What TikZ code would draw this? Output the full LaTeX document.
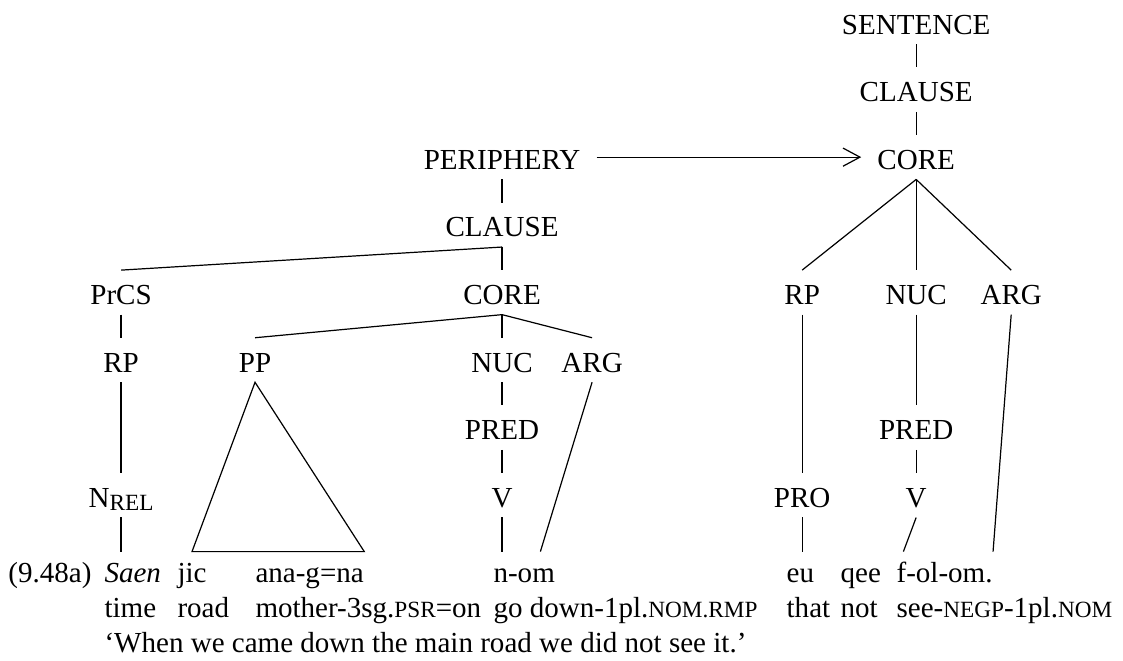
\documentclass[tikz,border=0pt]{standalone}
\usepackage{fontspec}
\setmainfont{Liberation Serif}
\usetikzlibrary{arrows.meta,calc}

% reduced capitals for glossing abbreviations
\newcommand{\gsc}[1]{{\fontsize{9.6pt}{10pt}\selectfont #1}}

\begin{document}
\begin{tikzpicture}[
    font=\fontsize{12pt}{14pt}\selectfont,
    lab/.style={
        anchor=base,
        inner xsep=6.5pt,
        inner ysep=0pt,
        text height=14pt,
        text depth=4pt
    },
    word/.style={
        anchor=base west,
        inner sep=0pt,
        text height=12.4pt,
        text depth=3pt
    },
    stem/.style={line width=0.5pt},
    arr/.style={-{Straight Barb[length=7pt,width=7.5pt]}, line width=0.5pt}
]

\useasboundingbox (0,0) rectangle (16.31,-9.588);

% main clause
\node[lab] (sent) at (13.306,-0.494) {SENTENCE};
\node[lab] (clauseR) at (13.306,-1.476) {CLAUSE};
\node[lab] (coreR) at (13.306,-2.458) {CORE};
\node[lab] (rpR) at (11.650,-4.422) {RP};
\node[lab] (nucR) at (13.306,-4.422) {NUC};
\node[lab] (argR) at (14.686,-4.422) {ARG};
\node[lab] (predR) at (13.306,-6.386) {PRED};
\node[lab] (pro) at (11.650,-7.368) {PRO};
\node[lab] (vR) at (13.306,-7.368) {V};

% peripheral clause
\node[lab] (periph) at (7.292,-2.458) {PERIPHERY};
\node[lab] (clauseL) at (7.292,-3.440) {CLAUSE};
\node[lab] (prcs) at (1.758,-4.422) {PrCS};
\node[lab] (coreL) at (7.292,-4.422) {CORE};
\node[lab] (rpL) at (1.758,-5.404) {RP};
\node[lab] (pp) at (3.704,-5.404) {PP};
\node[lab] (nucL) at (7.292,-5.404) {NUC};
\node[lab] (argL) at (8.599,-5.404) {ARG};
\node[lab] (predL) at (7.292,-6.386) {PRED};
\node[lab] (nrel) at (1.758,-7.368) {N\raisebox{-1.2pt}{\gsc{REL}}};
\node[lab] (vL) at (7.292,-7.368) {V};

% example, gloss, translation
\node[word] (exno) at (0.116,-8.454) {(9.48a)};
\node[word] (saen) at (1.511,-8.454) {\textit{Saen}};
\node[word] (jic) at (2.571,-8.454) {jic};
\node[word] (anagna) at (3.704,-8.454) {ana-g=na};
\node[word] (nom) at (7.161,-8.454) {n-om};
\node[word] (eu) at (11.418,-8.454) {eu};
\node[word] (qee) at (12.202,-8.454) {qee};
\node[word] (folom) at (13.015,-8.454) {f-ol-om.};

\node[word] (gtime) at (1.511,-8.963) {time};
\node[word] (groad) at (2.571,-8.963) {road};
\node[word] (gmother) at (3.704,-8.963) {mother-3sg.\gsc{PSR}=on};
\node[word] (ggo) at (7.161,-8.963) {go down-1pl.\gsc{NOM.RMP}};
\node[word] (gthat) at (11.418,-8.963) {that};
\node[word] (gnot) at (12.202,-8.963) {not};
\node[word] (gsee) at (13.015,-8.963) {see-\gsc{NEGP}-1pl.\gsc{NOM}};

\node[word] (transl) at (1.511,-9.471) {`When we came down the main road we did not see it.'};

% main clause branches
\draw[stem] (sent.south) -- (clauseR.north);
\draw[stem] (clauseR.south) -- (coreR.north);
\draw[stem] (coreR.south) -- (rpR.north);
\draw[stem] (coreR.south) -- (nucR.north);
\draw[stem] (coreR.south) -- (argR.north);
\draw[stem] (rpR.south) -- (pro.north);
\draw[stem] (pro.south) -- (pro.south |- eu.north);
\draw[stem] (nucR.south) -- (predR.north);
\draw[stem] (predR.south) -- (vR.north);
\draw[stem] (vR.south) -- ($(folom.north west)+(3pt,0)$);
\draw[stem] (argR.south) -- (folom.north east);

\draw[arr] (periph.east) -- (coreR.west);

% peripheral clause branches
\draw[stem] (periph.south) -- (clauseL.north);
\draw[stem] (clauseL.south) -- (prcs.north);
\draw[stem] (clauseL.south) -- (coreL.north);
\draw[stem] (prcs.south) -- (rpL.north);
\draw[stem] (rpL.south) -- (nrel.north);
\draw[stem] (nrel.south) -- (nrel.south |- saen.north);
\draw[stem] (coreL.south) -- (pp.north);
\draw[stem] (coreL.south) -- (nucL.north);
\draw[stem] (coreL.south) -- (argL.north);
\draw[stem] (pp.south) -- (jic.north) -- (anagna.north east) -- cycle;
\draw[stem] (nucL.south) -- (predL.north);
\draw[stem] (predL.south) -- (vL.north);
\draw[stem] (vL.south) -- (vL.south |- nom.north);
\draw[stem] (argL.south) -- ($(nom.north west)!0.76!(nom.north east)$);

\end{tikzpicture}
\end{document}
